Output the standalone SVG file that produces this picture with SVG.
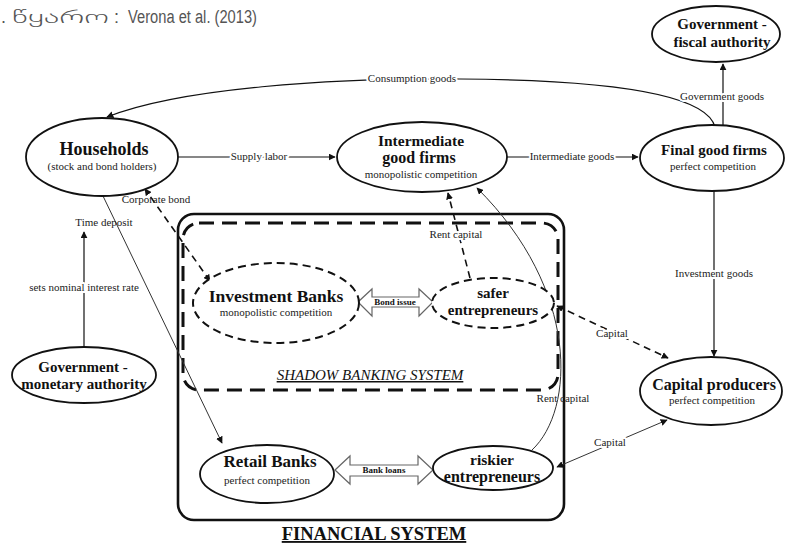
<svg xmlns="http://www.w3.org/2000/svg" width="787" height="544" viewBox="0 0 787 544">
<defs>
<style>
.node{fill:#fff;stroke:#111;stroke-width:1.8}
.dnode{fill:#fff;stroke:#111;stroke-width:2;stroke-dasharray:8 5}
.b{font-family:"Liberation Serif","DejaVu Serif",serif;font-weight:bold;fill:#111;text-anchor:middle}
.s{font-family:"Liberation Serif","DejaVu Serif",serif;fill:#222;text-anchor:middle;font-size:11px}
.lbl{font-family:"Liberation Serif","DejaVu Serif",serif;fill:#222;text-anchor:middle;font-size:11px;paint-order:stroke;stroke:#fff;stroke-width:4px;stroke-linejoin:round}
.ln{fill:none;stroke:#111;stroke-width:1.2}
.thin{fill:none;stroke:#333;stroke-width:1}
.dash{fill:none;stroke:#111;stroke-width:1.6;stroke-dasharray:7 5}
.dbl{fill:#fff;stroke:#666;stroke-width:1.2}
.cap{font-family:"Liberation Sans","DejaVu Sans",sans-serif;font-size:18px;fill:#555;font-weight:300}
</style>
<marker id="ah" viewBox="0 0 10 10" refX="9" refY="5" markerWidth="7" markerHeight="7" markerUnits="userSpaceOnUse" orient="auto-start-reverse">
<path d="M0,0 L10,5 L0,10 z" fill="#111"/>
</marker>
</defs>
<rect width="787" height="544" fill="#fff"/>
<g id="caption">
<text class="cap" x="1" y="23">.</text>
<text class="cap" x="12" y="23" font-size="16" textLength="97" lengthAdjust="spacingAndGlyphs">წყარო</text>
<text class="cap" x="114" y="23">:</text>
<text class="cap" x="128" y="23" textLength="129" lengthAdjust="spacingAndGlyphs">Verona et al. (2013)</text>
</g>

<g id="financial-system">
<rect x="178" y="214" width="386" height="306" rx="16" fill="none" stroke="#111" stroke-width="2.6"/>
<text class="b" x="374" y="540" font-size="18.5" text-decoration="underline">FINANCIAL SYSTEM</text>
</g>
<g id="shadow-banking-system">
<rect x="183" y="223" width="375" height="167" rx="16" fill="none" stroke="#111" stroke-width="3" stroke-dasharray="15 8"/>
<text x="370" y="380" font-family="Liberation Serif, DejaVu Serif, serif" font-style="italic" font-size="15" fill="#111" text-anchor="middle" text-decoration="underline">SHADOW BANKING SYSTEM</text>
</g>

<g id="connectors">
<path class="ln" d="M715,127 C706,92 600,80 460,79 C330,78 180,88 107,117" marker-end="url(#ah)"/>
<line class="ln" x1="723" y1="127" x2="723" y2="64" marker-end="url(#ah)"/>
<line class="ln" x1="178" y1="157" x2="335" y2="157" marker-end="url(#ah)"/>
<line class="ln" x1="507" y1="157" x2="638" y2="157" marker-end="url(#ah)"/>
<line class="ln" x1="714" y1="191" x2="714" y2="356" marker-end="url(#ah)"/>
<line class="ln" x1="84" y1="347" x2="84" y2="232" marker-end="url(#ah)"/>
<line class="thin" x1="103" y1="196" x2="222" y2="443" marker-end="url(#ah)"/>
<line class="dash" x1="210" y1="281" x2="145" y2="189" marker-start="url(#ah)" marker-end="url(#ah)"/>
<line class="dash" x1="470" y1="278" x2="448" y2="193" marker-end="url(#ah)"/>
<path class="thin" d="M532,450 C575,410 580,290 477,188" marker-end="url(#ah)"/>
<line class="dash" x1="557" y1="306" x2="668" y2="358" stroke-width="1.2" marker-start="url(#ah)" marker-end="url(#ah)"/>
<line class="thin" x1="557" y1="467" x2="667" y2="420" stroke="#666" marker-start="url(#ah)" marker-end="url(#ah)"/>
<polygon class="dbl" points="358,302 372,289 372,297 419,297 419,289 433,302 419,316 419,307 372,307 372,316"/>
<polygon class="dbl" points="335,470 350,456 350,465 418,465 418,456 433,470 418,484 418,476 350,476 350,484"/>
<text class="lbl" x="412" y="82">Consumption goods</text>
<text class="lbl" x="722" y="100">Government goods</text>
<text class="lbl" x="259" y="160">Supply labor</text>
<text class="lbl" x="572" y="160">Intermediate goods</text>
<text class="lbl" x="714" y="277">Investment goods</text>
<text class="lbl" x="84" y="291" font-size="11.5">sets nominal interest rate</text>
<text class="s" x="104" y="226">Time deposit</text>
<text class="s" x="156" y="203">Corporate bond</text>
<text class="lbl" x="456" y="238">Rent capital</text>
<text class="s" x="563" y="402">Rent capital</text>
<text class="lbl" x="612" y="337">Capital</text>
<text class="lbl" x="610" y="446">Capital</text>
<text class="b" x="395" y="305" font-size="9">Bond issue</text>
<text class="b" x="384" y="473" font-size="9">Bank loans</text>
</g>

<g id="gov-fiscal">
<ellipse class="node" cx="716" cy="34" rx="64" ry="28"/>
<text class="b" x="722" y="29" font-size="15">Government -</text>
<text class="b" x="722" y="47" font-size="15">fiscal authority</text>
</g>
<g id="households">
<ellipse class="node" cx="102" cy="157" rx="76" ry="39"/>
<text class="b" x="104" y="155" font-size="18">Households</text>
<text class="s" x="102" y="170">(stock and bond holders)</text>
</g>
<g id="intermediate-firms">
<ellipse class="node" cx="422" cy="157" rx="85" ry="35"/>
<text class="b" x="421" y="146" font-size="15.5">Intermediate</text>
<text class="b" x="419" y="163" font-size="16">good firms</text>
<text class="s" x="421" y="178">monopolistic competition</text>
</g>
<g id="final-firms">
<ellipse class="node" cx="712" cy="158" rx="72" ry="33"/>
<text class="b" x="714" y="155" font-size="15">Final good firms</text>
<text class="s" x="713" y="170">perfect competition</text>
</g>
<g id="gov-monetary">
<ellipse class="node" cx="84" cy="375" rx="72" ry="28"/>
<text class="b" x="83" y="372" font-size="15">Government -</text>
<text class="b" x="84" y="389" font-size="15">monetary authority</text>
</g>
<g id="capital-producers">
<ellipse class="node" cx="711" cy="391" rx="71" ry="34"/>
<text class="b" x="714" y="390" font-size="16">Capital producers</text>
<text class="s" x="712" y="404">perfect competition</text>
</g>
<g id="investment-banks">
<ellipse class="dnode" cx="276" cy="303" rx="83" ry="40"/>
<text class="b" x="276" y="302" font-size="17.5">Investment Banks</text>
<text class="s" x="276" y="316">monopolistic competition</text>
</g>
<g id="safer-entrepreneurs">
<ellipse class="dnode" cx="493" cy="303" rx="61" ry="25"/>
<text class="b" x="493" y="298" font-size="15">safer</text>
<text class="b" x="493" y="315" font-size="15">entrepreneurs</text>
</g>
<g id="retail-banks">
<ellipse class="node" cx="267" cy="474" rx="67" ry="29"/>
<text class="b" x="270" y="467" font-size="17">Retail Banks</text>
<text class="s" x="267" y="484">perfect competition</text>
</g>
<g id="riskier-entrepreneurs">
<ellipse class="node" cx="493" cy="468" rx="60" ry="22"/>
<text class="b" x="492" y="465" font-size="15.5">riskier</text>
<text class="b" x="492" y="482" font-size="16">entrepreneurs</text>
</g>
</svg>
